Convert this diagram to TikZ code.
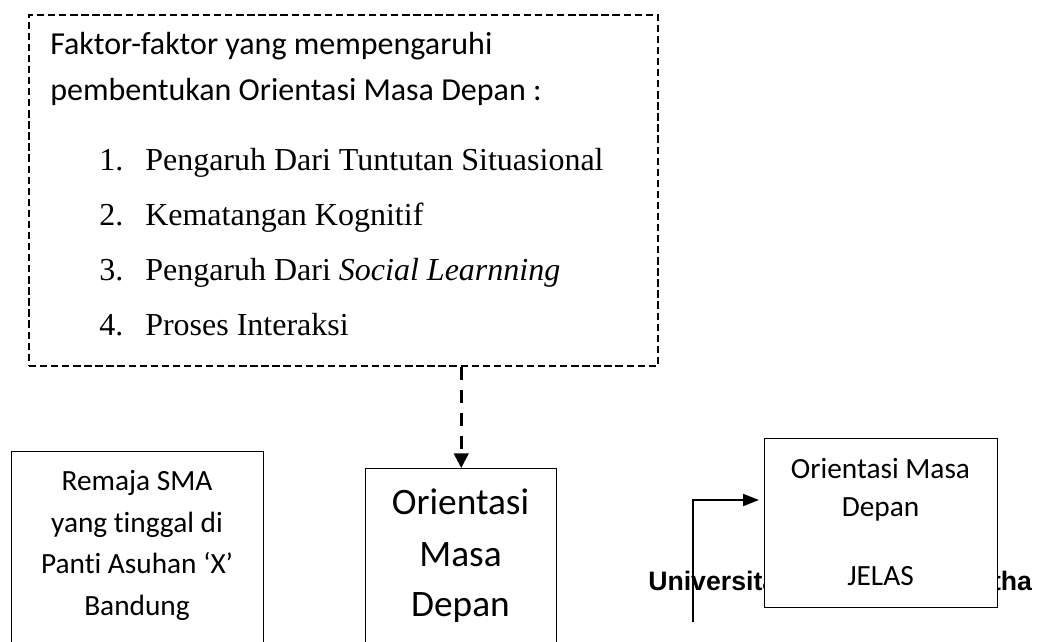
\documentclass[tikz,border=0pt]{standalone}
\usepackage{fontspec}
\setmainfont{Carlito}[Ligatures=NoCommon]
\newfontfamily\tnr{Liberation Serif}
\newfontfamily\arialf{Liberation Sans}
\usetikzlibrary{arrows.meta,calc}
\begin{document}
\begin{tikzpicture}[x=0.75pt,y=-0.75pt,
  dbox/.style={draw, line width=1.4pt, dash pattern=on 5.5pt off 2.8pt, inner sep=0pt, anchor=north west},
  sbox/.style={draw, line width=1.1pt, inner sep=0pt, anchor=north west, fill=white},
  ctxt/.style={inner sep=0pt, anchor=base},
  ltxt/.style={inner sep=0pt, anchor=base west},
  faktorfont/.style={font=\fontsize{24}{28}\selectfont},
  itemfont/.style={font=\tnr\fontsize{24}{28}\selectfont},
  smallfont/.style={font=\fontsize{22}{26}\selectfont},
  bigfont/.style={font=\fontsize{28}{32}\selectfont},
  unifont/.style={font=\arialf\bfseries\fontsize{20}{24}\selectfont},
]
\useasboundingbox (0,0) rectangle (1038,642);
\clip (0,0) rectangle (1038,642);

% dashed factor box
\node[dbox, minimum width=471.75pt, minimum height=263.25pt] (fbox) at (28,14) {};
\node[ltxt, faktorfont] (f1) at (50,55) {Faktor-faktor yang mempengaruhi};
\node[ltxt, faktorfont] (f2) at (50,100) {pembentukan Orientasi Masa Depan :};
\node[ltxt, itemfont] (n1) at (99,170) {1.};
\node[ltxt, itemfont] (i1) at (145,170) {Pengaruh Dari Tuntutan Situasional};
\node[ltxt, itemfont] (n2) at (99,225) {2.};
\node[ltxt, itemfont] (i2) at (145,225) {Kematangan Kognitif};
\node[ltxt, itemfont] (n3) at (99,280) {3.};
\node[ltxt, itemfont] (i3) at (145,280) {Pengaruh Dari \textit{Social Learnning}};
\node[ltxt, itemfont] (n4) at (99,335) {4.};
\node[ltxt, itemfont] (i4) at (145,335) {Proses Interaksi};

% left box
\node[sbox, minimum width=189pt, minimum height=171.75pt] (remaja) at (11,451) {};
\node[ctxt, smallfont] (r1) at (137,490) {Remaja SMA};
\node[ctxt, smallfont] (r2) at (137,532) {yang tinggal di};
\node[ctxt, smallfont] (r3) at (137,573) {Panti Asuhan ‘X’};
\node[ctxt, smallfont] (r4) at (137,615) {Bandung};

% center box
\node[sbox, minimum width=143.25pt, minimum height=159pt] (omd) at (365,468) {};
\node[ctxt, bigfont] (o1) at (460.5,514) {Orientasi};
\node[ctxt, bigfont] (o2) at (460.5,566) {Masa};
\node[ctxt, bigfont] (o3) at (460.5,616) {Depan};

% watermark text (partly covered by the right box)
\node[ltxt, unifont] (uni) at (648,590) {Universitas Kristen Maranatha};

% right box
\node[sbox, minimum width=174.75pt, minimum height=126.75pt] (omj) at (764,438) {};
\node[ctxt, smallfont] (j1) at (880.5,478) {Orientasi Masa};
\node[ctxt, smallfont] (j2) at (880.5,516) {Depan};
\node[ctxt, smallfont] (j3) at (880.5,585) {JELAS};

% dashed arrow
\draw[line width=1.9pt, dash pattern=on 9.75pt off 7.5pt,
      -{Triangle[length=11pt,width=11pt]}]
  (fbox.south -| omd.north) -- (omd.north);

% solid elbow arrow
\coordinate (a0) at (693,622);
\draw[line width=1.5pt, -{Triangle[length=12pt,width=9pt]}]
  (a0) |- ($(omj.west |- 0,500)+(-5,0)$);
\end{tikzpicture}
\end{document}
